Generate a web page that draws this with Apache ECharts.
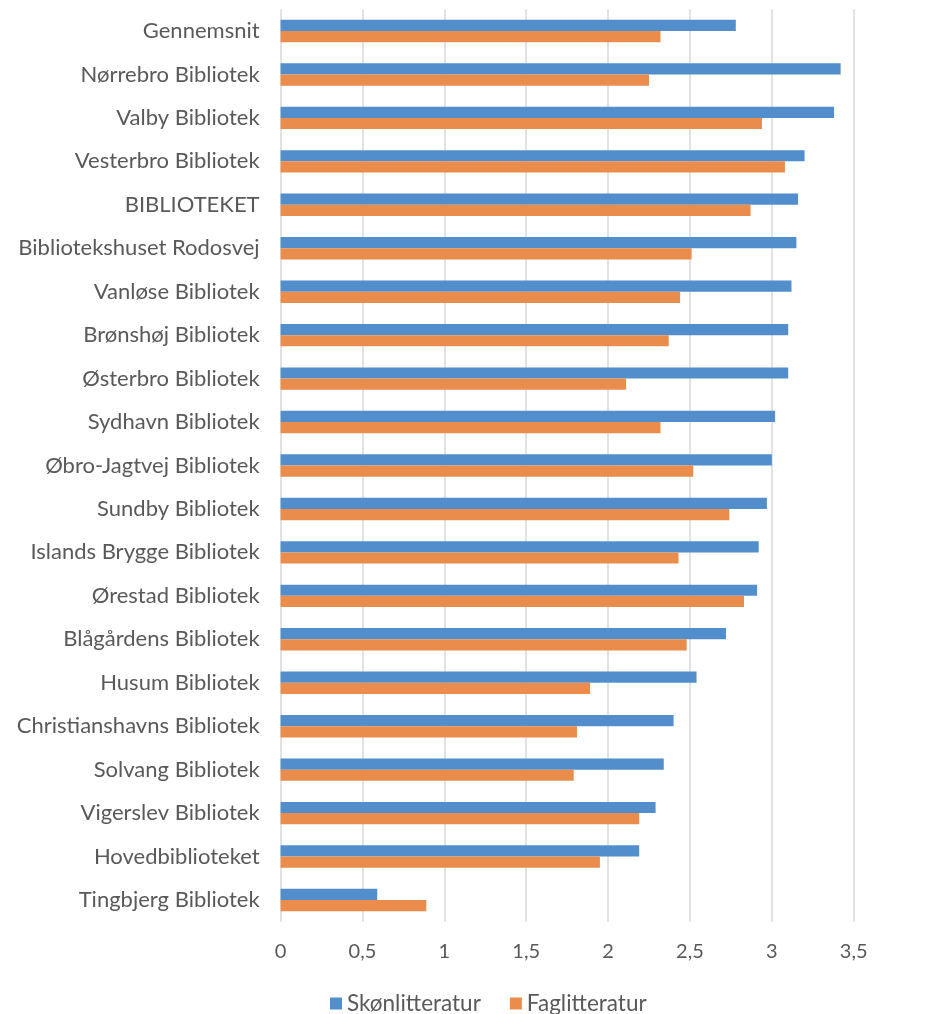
<!DOCTYPE html>
<html>
<head>
<meta charset="utf-8">
<script src="https://cdn.jsdelivr.net/npm/echarts@6/dist/echarts.min.js"></script>
<style>
html,body{margin:0;padding:0;background:#fff;}
#chart{width:928px;height:1014px;}
</style>
</head>
<body>
<div id="chart"></div>
<script>
const categories = [
  "Gennemsnit","Nørrebro Bibliotek","Valby Bibliotek","Vesterbro Bibliotek","BIBLIOTEKET",
  "Bibliotekshuset Rodosvej","Vanløse Bibliotek","Brønshøj Bibliotek","Østerbro Bibliotek",
  "Sydhavn Bibliotek","Øbro-Jagtvej Bibliotek","Sundby Bibliotek","Islands Brygge Bibliotek",
  "Ørestad Bibliotek","Blågårdens Bibliotek","Husum Bibliotek","Christianshavns Bibliotek",
  "Solvang Bibliotek","Vigerslev Bibliotek","Hovedbiblioteket","Tingbjerg Bibliotek"
];
const skonlitteratur = [2.78,3.42,3.38,3.20,3.16,3.15,3.12,3.10,3.10,3.02,3.00,2.97,2.92,2.91,2.72,2.54,2.40,2.34,2.29,2.19,0.59];
const faglitteratur  = [2.32,2.25,2.94,3.08,2.87,2.51,2.44,2.37,2.11,2.32,2.52,2.74,2.43,2.83,2.48,1.89,1.81,1.79,2.19,1.95,0.89];
const seriesNames = ["Skønlitteratur","Faglitteratur"];
const xTicks = {min:0, max:3.5, interval:0.5};

const FONT = 'Lato, "DejaVu Sans", sans-serif';
const chart = echarts.init(document.getElementById('chart'), null, {renderer:'canvas'});
chart.setOption({
  animation:false,
  textStyle:{fontFamily:FONT},
  grid:{left:280.6, right:74.3, top:9.3, bottom:92.3, containLabel:false},
  legend:{
    data:seriesNames,
    left:325, top:987,
    icon:'rect', itemWidth:12, itemHeight:12, itemGap:29,
    textStyle:{color:'#595959', fontSize:22.5, fontFamily:FONT}
  },
  xAxis:{
    type:'value', min:xTicks.min, max:xTicks.max, interval:xTicks.interval,
    axisLine:{show:false}, axisTick:{show:false},
    splitLine:{show:true, lineStyle:{color:'#d9d9d9', width:1.5}},
    axisLabel:{color:'#595959', fontSize:20, margin:20, fontFamily:FONT,
      formatter:v=>String(v).replace('.',',')}
  },
  yAxis:{
    type:'category', data:categories, inverse:true,
    axisLine:{show:false}, axisTick:{show:false},
    axisLabel:{color:'#595959', fontSize:22, margin:21, fontFamily:FONT, interval:0}
  },
  series:[
    {name:seriesNames[0], type:'bar', data:skonlitteratur, barWidth:11.2, barGap:'0%',
     itemStyle:{color:'#518ECB'}},
    {name:seriesNames[1], type:'bar', data:faglitteratur, barWidth:11.2, barGap:'0%',
     itemStyle:{color:'#EA8C4B'}}
  ]
});
</script>
</body>
</html>
